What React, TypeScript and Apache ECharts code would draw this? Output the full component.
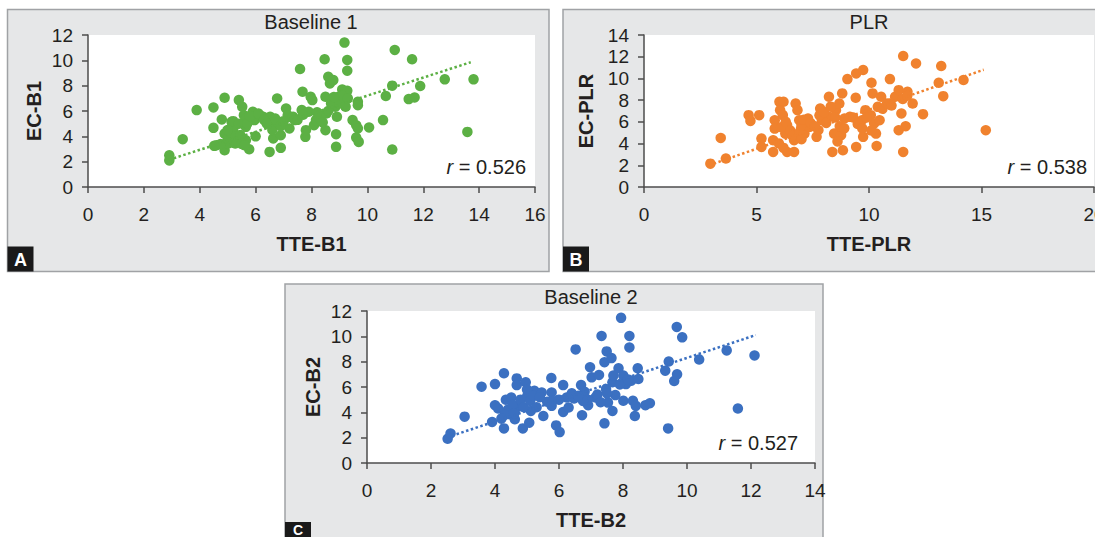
import React, { useEffect, useRef } from "react";
import * as echarts from "echarts";

// Panel A: Baseline 1
const tteB1 = [2.91, 2.91, 3.39, 3.89, 4.49, 4.49, 4.52, 4.79, 4.89, 4.89, 4.89, 5.14, 5.14, 5.02, 5.27, 5.4, 5.52, 5.58, 5.65, 5.65, 5.77, 5.9, 5.96, 6.0, 5.65, 6.15, 6.27, 6.52, 6.59, 6.63, 6.5, 6.77, 6.9, 6.9, 6.77, 7.09, 7.15, 7.21, 7.34, 7.4, 7.59, 7.65, 7.68, 7.78, 7.8, 7.9, 7.97, 8.03, 8.09, 8.16, 8.28, 8.47, 8.5, 8.5, 8.53, 8.6, 8.66, 8.78, 8.85, 8.85, 8.91, 8.88, 8.88, 8.97, 9.1, 9.18, 9.22, 9.28, 9.28, 9.28, 9.22, 9.47, 9.66, 9.66, 9.6, 9.66, 9.6, 9.69, 10.06, 10.56, 10.66, 10.89, 10.89, 10.98, 11.48, 11.69, 11.6, 11.89, 12.77, 13.58, 13.8,
  4.6, 4.75, 5.0, 5.1, 5.2, 5.3, 5.35, 5.45, 5.5, 5.6, 5.0, 5.2, 5.4, 5.7, 5.8, 6.1, 6.3, 6.4, 6.6, 6.7, 6.9, 7.0, 7.5, 7.7, 8.2, 8.4, 8.6, 8.7, 9.0, 9.1, 9.3, 8.8];
const ecB1 = [2.5, 2.1, 3.77, 6.07, 6.28, 4.67, 3.25, 5.33, 7.04, 4.22, 2.9, 5.15, 3.96, 3.43, 3.43, 6.86, 6.33, 5.67, 4.75, 3.69, 2.98, 5.94, 5.28, 4.0, 5.4, 5.67, 5.54, 5.54, 4.88, 3.83, 2.77, 6.99, 4.09, 3.09, 5.01, 6.2, 5.67, 4.62, 5.54, 5.28, 9.31, 6.07, 7.52, 3.96, 4.49, 5.94, 7.12, 6.86, 4.88, 5.28, 5.41, 10.08, 7.12, 4.49, 5.8, 8.7, 8.18, 8.44, 6.86, 6.33, 5.54, 4.17, 3.17, 7.12, 7.7, 11.4, 6.86, 10.03, 9.18, 7.6, 6.33, 5.28, 6.73, 6.46, 4.88, 4.62, 3.9, 3.56, 4.7, 5.28, 7.18, 8.0, 2.96, 10.82, 6.94, 7.07, 10.08, 7.97, 8.5, 4.35, 8.5,
  3.3, 3.4, 3.8, 4.3, 4.6, 4.0, 3.6, 4.1, 3.4, 3.3, 4.5, 5.2, 5.0, 5.0, 5.6, 5.8, 5.3, 5.0, 4.5, 5.4, 4.8, 5.2, 5.3, 5.7, 5.9, 5.1, 6.0, 6.6, 6.6, 7.2, 7.0, 7.1];
const trendB1X = [2.9, 13.7];
const trendB1Y = [2.15, 9.85];

// Panel B: PLR
const ttePlr = [2.95, 3.64, 3.41, 4.65, 4.73, 5.12, 5.22, 5.22, 5.74, 5.74, 5.81, 5.81, 6.02, 6.2, 6.05, 6.17, 6.36, 6.28, 6.36, 6.67, 6.67, 6.74, 6.82, 6.9, 6.98, 7.13, 7.29, 7.36, 7.67, 7.75, 7.83, 7.91, 8.22, 8.22, 8.37, 8.45, 8.53, 8.68, 8.81, 8.84, 8.76, 8.91, 9.04, 9.15, 9.41, 9.43, 9.43, 9.74, 9.69, 9.74, 9.84, 10.08, 10.11, 10.16, 10.23, 10.31, 10.34, 10.39, 10.47, 10.54, 10.93, 10.93, 11.16, 11.32, 11.32, 11.44, 11.52, 11.52, 11.63, 11.71, 11.94, 12.09, 12.4, 13.1, 13.21, 13.3, 14.2, 15.19,
  6.1, 6.3, 6.5, 6.6, 6.9, 7.0, 7.1, 7.4, 7.6, 7.8, 8.0, 8.1, 8.3, 8.5, 8.7, 8.9, 9.3, 9.5, 9.7, 9.9, 10.1, 10.6, 10.8, 11.0, 11.5, 11.7, 6.0, 6.2, 7.0, 8.6];
const ecPlr = [2.15, 2.62, 4.52, 6.62, 6.09, 6.62, 4.46, 3.69, 4.31, 3.23, 6.15, 5.38, 7.85, 7.85, 7.08, 6.62, 5.69, 4.92, 3.23, 3.23, 4.31, 7.69, 7.08, 6.15, 5.38, 4.92, 6.31, 5.54, 4.62, 5.23, 7.23, 6.15, 8.31, 6.46, 3.23, 4.92, 7.08, 7.69, 8.62, 3.38, 4.77, 6.31, 9.94, 6.46, 8.22, 10.46, 3.69, 10.77, 6.15, 4.62, 7.08, 6.62, 9.6, 8.62, 5.85, 4.92, 3.78, 7.38, 6.15, 8.31, 9.94, 7.69, 8.31, 8.92, 5.23, 6.77, 12.06, 3.23, 5.6, 8.77, 7.69, 11.38, 6.71, 9.6, 11.14, 8.37, 9.85, 5.23,
  5.5, 6.0, 5.2, 4.7, 5.0, 5.7, 6.2, 5.9, 5.6, 6.6, 6.9, 5.9, 7.4, 6.4, 5.6, 5.4, 6.4, 5.8, 5.4, 6.4, 5.2, 7.2, 7.7, 7.5, 8.1, 8.4, 4.0, 3.6, 4.4, 4.2];
const trendPlrX = [3.1, 15.1];
const trendPlrY = [2.15, 10.8];

// Panel C: Baseline 2
const tteB2 = [2.52, 2.61, 3.05, 3.58, 4.0, 4.0, 3.91, 4.28, 4.28, 4.34, 4.45, 4.51, 4.68, 4.68, 4.68, 4.62, 4.87, 4.96, 5.01, 5.07, 5.12, 5.23, 5.46, 5.51, 5.63, 5.76, 5.77, 5.77, 5.91, 6.02, 6.13, 6.13, 6.24, 6.3, 6.52, 6.47, 6.69, 6.72, 6.8, 6.91, 6.97, 7.02, 7.14, 7.25, 7.33, 7.42, 7.42, 7.49, 7.47, 7.53, 7.64, 7.67, 7.67, 7.76, 7.86, 7.94, 8.01, 8.01, 8.09, 8.2, 8.2, 8.26, 8.31, 8.37, 8.4, 8.48, 8.46, 8.7, 8.84, 9.32, 9.41, 9.43, 9.6, 9.69, 9.68, 9.85, 10.38, 11.24, 11.59, 12.11,
  4.4, 4.55, 4.8, 4.9, 5.0, 5.1, 5.2, 5.3, 5.4, 5.8, 6.0, 6.4, 6.9, 7.2, 7.3, 7.5, 7.9, 8.15, 7.7, 6.75, 6.6, 4.1, 4.3, 4.6, 4.2];
const ecB2 = [1.91, 2.33, 3.66, 6.02, 6.23, 4.56, 3.24, 7.08, 2.73, 4.99, 3.85, 5.17, 6.68, 6.15, 4.38, 3.45, 2.73, 6.37, 5.3, 3.18, 4.11, 5.7, 5.57, 3.71, 4.83, 6.71, 5.57, 4.51, 2.97, 2.44, 6.15, 4.03, 5.17, 4.38, 8.97, 5.09, 6.15, 3.77, 5.62, 4.56, 7.56, 6.76, 5.17, 6.95, 10.03, 7.96, 3.13, 8.81, 5.84, 4.77, 8.28, 6.37, 4.11, 5.36, 7.48, 11.46, 6.9, 4.91, 6.23, 10.03, 9.12, 6.5, 4.91, 3.71, 4.51, 6.63, 7.48, 4.56, 4.72, 7.29, 2.73, 8.01, 6.47, 7.0, 10.74, 9.92, 8.17, 8.89, 4.3, 8.49,
  4.2, 4.6, 5.0, 4.4, 5.8, 4.9, 5.3, 4.4, 5.2, 4.9, 5.0, 5.5, 5.0, 5.4, 4.8, 5.5, 6.2, 6.6, 6.9, 4.9, 5.3, 4.3, 3.8, 3.9, 3.5];
const trendB2X = [2.65, 12.15];
const trendB2Y = [2.15, 10.1];

const FONT = "Liberation Sans, Arial, Helvetica, sans-serif";
const TEXT = "#231f20";
const AXIS = "#4d4d4d";
const GREEN = "#5cb044";
const ORANGE = "#f0822e";
const BLUE = "#3b70c1";
const PANEL_BG = "#e6e7e8";
const PANEL_BORDER = "#a0a2a5";

function xAxis(idx: number, max: number, interval: number, name: string) {
  return {
    type: "value", gridIndex: idx, min: 0, max, interval, name,
    nameLocation: "middle", nameGap: 47,
    nameTextStyle: { fontFamily: FONT, fontSize: 20, fontWeight: "bold", color: TEXT },
    axisLine: { show: true, onZero: false, lineStyle: { color: AXIS, width: 1.5 } },
    axisTick: { show: true, length: 6, lineStyle: { color: AXIS, width: 1.5 } },
    axisLabel: { fontFamily: FONT, fontSize: 19, color: TEXT, margin: 18 },
    splitLine: { show: false },
  };
}
function yAxis(idx: number, max: number, interval: number, name: string, gap: number) {
  return {
    type: "value", gridIndex: idx, min: 0, max, interval, name,
    nameLocation: "middle", nameGap: gap,
    nameTextStyle: { fontFamily: FONT, fontSize: 20, fontWeight: "bold", color: TEXT },
    axisLine: { show: true, onZero: false, lineStyle: { color: AXIS, width: 1.5 } },
    axisTick: { show: true, length: 6, lineStyle: { color: AXIS, width: 1.5 } },
    axisLabel: { fontFamily: FONT, fontSize: 19, color: TEXT, margin: 15 },
    splitLine: { show: false },
  };
}
function scatter(xs: number[], ys: number[], idx: number, color: string) {
  return {
    type: "scatter", xAxisIndex: idx, yAxisIndex: idx,
    data: xs.map((x, i) => [x, ys[i]]),
    symbolSize: 10.5, itemStyle: { color, opacity: 1 }, z: 3,
  };
}
function trend(xs: number[], ys: number[], idx: number, color: string) {
  return {
    type: "line", xAxisIndex: idx, yAxisIndex: idx,
    data: xs.map((x, i) => [x, ys[i]]),
    showSymbol: false, symbol: "none",
    lineStyle: { color, width: 2.5, type: [2.5, 2.5] }, z: 4,
  };
}
function panelRect(x: number, y: number, w: number, h: number) {
  return {
    type: "rect", z: -10, shape: { x, y, width: w, height: h },
    style: { fill: PANEL_BG, stroke: PANEL_BORDER, lineWidth: 1.5 },
  };
}
function letterBox(x: number, y: number, letter: string, ty: number, size: number) {
  return {
    type: "group", z: 100,
    children: [
      { type: "rect", z: 100, shape: { x, y, width: 26, height: 25 }, style: { fill: "#1a1a1a" } },
      { type: "text", z: 101, x: x + 13, y: ty, style: { text: letter, fill: "#fff", font: `bold ${size}px ${FONT}`, align: "center", verticalAlign: "middle" } },
    ],
  };
}
function titleText(x: number, y: number, text: string) {
  return { type: "text", z: 100, x, y, style: { text, fill: TEXT, font: `20px ${FONT}`, align: "center", verticalAlign: "middle" } };
}
function rText(x: number, y: number, value: string) {
  return {
    type: "text", z: 100, x, y,
    style: {
      text: `{i|r} = ${value}`, fill: TEXT, font: `20px ${FONT}`, align: "right", verticalAlign: "middle",
      rich: { i: { fontStyle: "italic", fontSize: 20, fontFamily: FONT, fill: TEXT } },
    },
  };
}

const gridBase = { show: true, backgroundColor: "#ffffff", borderWidth: 0, containLabel: false, outerBoundsMode: "none" };

export default function App() {
  const ref = useRef<HTMLDivElement>(null);
  useEffect(() => {
    if (!ref.current) return;
    const chart = echarts.init(ref.current, undefined, { renderer: "svg" });
    chart.setOption({
      animation: false,
      backgroundColor: "#ffffff",
      grid: [
        { ...gridBase, left: 88, top: 35, width: 447, height: 152 },
        { ...gridBase, left: 644, top: 35, width: 450, height: 152 },
        { ...gridBase, left: 367, top: 311, width: 448, height: 152 },
      ],
      xAxis: [
        xAxis(0, 16, 2, "TTE-B1"),
        xAxis(1, 20, 5, "TTE-PLR"),
        xAxis(2, 14, 2, "TTE-B2"),
      ],
      yAxis: [
        yAxis(0, 12, 2, "EC-B1", 44),
        yAxis(1, 14, 2, "EC-PLR", 48),
        yAxis(2, 12, 2, "EC-B2", 44),
      ],
      series: [
        scatter(tteB1, ecB1, 0, GREEN),
        trend(trendB1X, trendB1Y, 0, GREEN),
        scatter(ttePlr, ecPlr, 1, ORANGE),
        trend(trendPlrX, trendPlrY, 1, ORANGE),
        scatter(tteB2, ecB2, 2, BLUE),
        trend(trendB2X, trendB2Y, 2, BLUE),
      ],
      graphic: {
        elements: [
          panelRect(7.5, 9.5, 541.5, 262),
          panelRect(563, 9.5, 545, 262),
          panelRect(285, 284, 538, 270),
          titleText(311, 22, "Baseline 1"),
          titleText(869, 22, "PLR"),
          titleText(591, 297, "Baseline 2"),
          rText(526, 167, "0.526"),
          rText(1087, 167, "0.538"),
          rText(798, 443, "0.527"),
          letterBox(7.5, 246.5, "A", 259.5, 18),
          letterBox(563, 246.5, "B", 259.5, 18),
          letterBox(285, 522, "C", 529.5, 14),
        ],
      },
    });
    return () => chart.dispose();
  }, []);
  return <div ref={ref} style={{ position: "fixed", left: 0, top: 0, width: 1095, height: 537 }} />;
}
